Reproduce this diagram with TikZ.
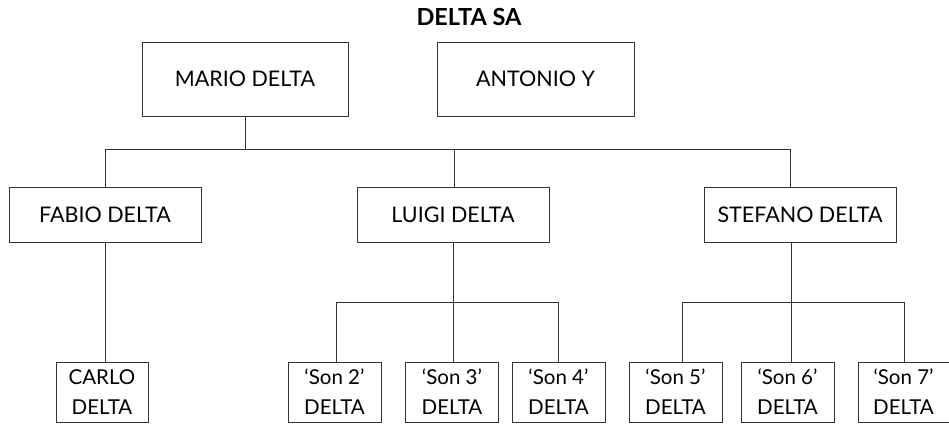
\documentclass[tikz,border=0pt]{standalone}
\usepackage{fontspec}
\setmainfont{Lato}
\begin{document}
\begin{tikzpicture}[x=1pt,y=1pt,
  line/.style={draw=black!80, line width=0.9pt},
  bigbox/.style={line, rectangle, inner sep=0pt, align=center, font=\fontsize{21.5}{25}\selectfont},
  smallbox/.style={line, rectangle, inner sep=0pt, align=center, minimum width=93pt, minimum height=60pt, font=\fontsize{20.5}{30}\selectfont},
  title/.style={font=\bfseries\fontsize{23.5}{26}\selectfont}
]
\useasboundingbox (0,0) rectangle (949,-423);
\node[title] (title) at (469,-17) {DELTA SA};
\node[bigbox, minimum width=206pt, minimum height=74pt] (mario) at (245,-79) {MARIO DELTA};
\node[bigbox, minimum width=197pt, minimum height=74pt] (antonio) at (535.5,-79) {ANTONIO Y};
\node[bigbox, minimum width=192pt, minimum height=55pt] (fabio) at (105,-214.5) {FABIO DELTA};
\node[bigbox, minimum width=192pt, minimum height=55pt] (luigi) at (453,-214.5) {LUIGI DELTA};
\node[bigbox, minimum width=192pt, minimum height=55pt] (stefano) at (800,-214.5) {STEFANO DELTA};
\node[smallbox, minimum width=92pt] (carlo) at (102,-392) {CARLO\\DELTA};
\node[smallbox] (son2) at (334.5,-392) {`Son 2'\\DELTA};
\node[smallbox] (son3) at (452,-392) {`Son 3'\\DELTA};
\node[smallbox] (son4) at (558.5,-392) {`Son 4'\\DELTA};
\node[smallbox] (son5) at (675.5,-392) {`Son 5'\\DELTA};
\node[smallbox] (son6) at (787.5,-392) {`Son 6'\\DELTA};
\node[smallbox, minimum width=91pt] (son7) at (903.5,-392) {`Son 7'\\DELTA};
% top bus
\draw[line] (mario.south) -- ++(0,-33) coordinate (b1);
\draw[line] (fabio.north) |- (b1);
\draw[line] ([xshift=-10pt]stefano.north) |- (b1);
\draw[line] ([xshift=1pt]luigi.north) -- ([xshift=1pt]luigi.north |- b1);
% fabio
\draw[line] (fabio.south) -- (fabio.south |- carlo.north);
% luigi children
\draw[line] (luigi.south) -- ++(0,-60) coordinate (b2);
\draw[line] ([xshift=1.5pt]son2.north) |- (b2);
\draw[line] ([xshift=-0.5pt]son4.north) |- (b2);
\draw[line] (b2) -- (b2 |- son3.north);
% stefano children
\draw[line] ([xshift=-9pt]stefano.south) -- ++(0,-60) coordinate (b3);
\draw[line] ([xshift=6.5pt]son5.north) |- (b3);
\draw[line] ([xshift=0.5pt]son7.north) |- (b3);
\draw[line] (b3) -- (b3 |- son6.north);
\end{tikzpicture}
\end{document}
